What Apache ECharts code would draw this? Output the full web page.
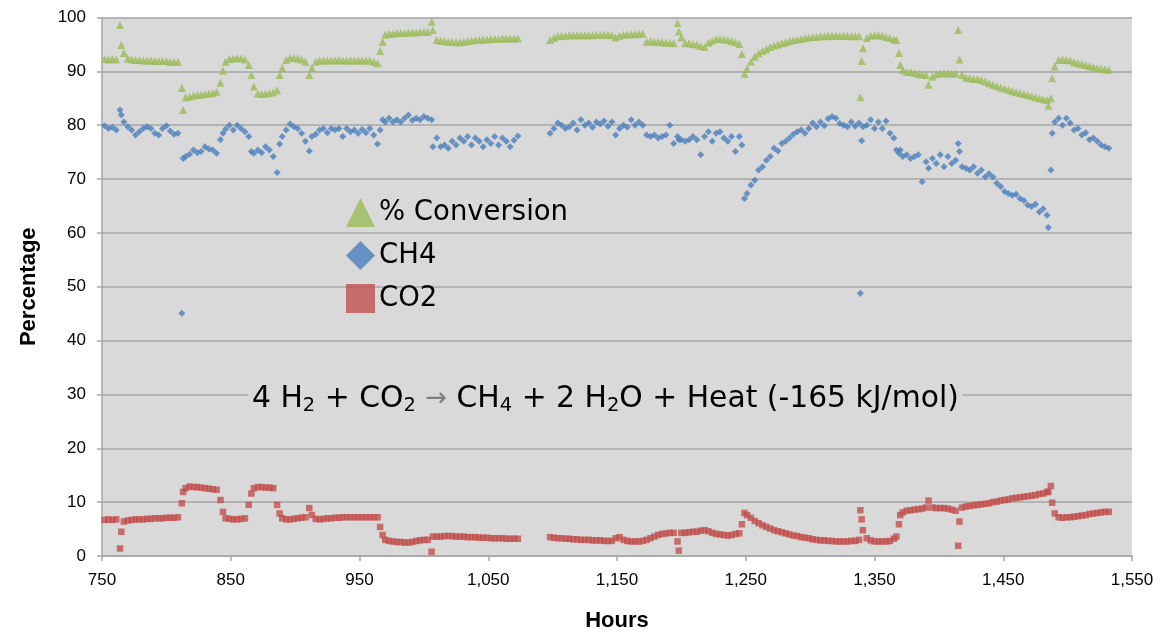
<!DOCTYPE html>
<html>
<head>
<meta charset="utf-8">
<script src="https://cdn.jsdelivr.net/npm/echarts@6/dist/echarts.min.js"></script>
<style>html,body{margin:0;padding:0;background:#fff}#c{width:1169px;height:633px}</style>
</head>
<body>
<div id="c"></div>
<script>
const hours = [
752,755,758,761,764,765,767,770,773,776,779,782,785,788,791,794,797,800,803,806,809,
812,813,815,818,821,824,827,830,833,836,839,842,844,846,849,852,855,858,861,864,866,
868,871,874,877,880,883,886,888,890,893,896,899,902,905,908,911,913,916,919,922,925,
928,931,934,937,940,943,946,949,952,955,958,961,964,966,968,970,973,976,979,982,985,
988,991,994,997,1000,1003,1006,1007,1010,1013,1016,1019,1022,1025,1028,1031,1034,1037,
1040,1043,1046,1049,1052,1055,1058,1061,1064,1067,1070,1073,
1098,1101,1104,1107,1110,1113,1116,1119,1122,1125,1128,1131,1134,1137,1140,1143,1146,
1149,1152,1155,1158,1161,1164,1167,1170,1173,1176,1179,1182,1185,1188,1191,1194,1197,
1198,1200,1203,1206,1209,1212,1215,1218,1221,1224,1227,1230,1233,1236,1239,1242,1245,
1247,1249,1251,1254,1257,1260,1263,1266,1269,1272,1275,1278,1281,1284,1287,1290,1293,
1296,1299,1302,1305,1308,1311,1314,1317,1320,1323,1326,1329,1332,1335,1338,1339,1340,
1341,1344,1347,1350,1353,1356,1359,1362,1365,1367,1369,1370,1372,1375,1378,1381,1384,
1387,1390,1392,1395,1398,1401,1404,1407,1410,1413,1415,1416,1418,1421,1424,1427,1430,
1433,1436,1439,1442,1445,1448,1451,1454,1457,1460,1463,1466,1469,1472,1475,1478,1481,
1484,1485,1487,1488,1490,1493,1496,1499,1502,1505,1508,1511,1514,1517,1520,1523,1526,
1529,1532
];
const conversion = [
92.3,92.2,92.3,92.2,98.6,94.9,93.4,92.4,92.2,92.1,92.1,92.0,92.0,92.0,91.9,91.9,91.9,91.9,91.8,91.8,91.8,
86.9,82.8,85.2,85.3,85.5,85.6,85.7,85.8,85.9,86.0,86.2,87.9,90.1,91.8,92.3,92.4,92.5,92.4,92.2,91.2,89.3,
87.2,85.9,85.8,85.9,86.0,86.1,86.5,89.3,90.6,92.1,92.5,92.5,92.4,92.2,91.8,89.3,90.6,91.8,92.0,92.0,92.0,
92.0,92.0,92.1,92.0,92.0,92.0,92.0,92.0,92.0,92.0,92.0,91.8,91.5,93.8,95.5,96.8,97.0,97.0,97.1,97.1,97.1,
97.2,97.2,97.2,97.3,97.3,97.3,99.2,97.7,95.8,95.7,95.6,95.5,95.5,95.4,95.4,95.5,95.6,95.7,
95.8,95.8,95.9,95.9,96.0,96.0,96.0,96.1,96.1,96.1,96.1,96.1,
95.8,96.2,96.5,96.6,96.6,96.7,96.7,96.7,96.7,96.7,96.7,96.7,96.8,96.8,96.8,96.8,96.7,
96.3,96.6,96.8,96.9,96.9,96.9,97.0,97.0,95.5,95.6,95.5,95.5,95.4,95.3,95.3,95.2,99.0,
97.4,96.3,95.2,95.2,95.1,95.0,94.7,94.5,95.3,95.7,96.0,96.0,95.9,95.8,95.6,95.4,95.1,
93.2,89.5,90.5,91.8,92.7,93.3,93.8,94.1,94.5,94.8,95.0,95.2,95.4,95.6,95.8,95.9,96.0,
96.2,96.3,96.4,96.4,96.5,96.5,96.6,96.6,96.6,96.6,96.6,96.6,96.5,96.5,96.5,85.2,91.9,
94.3,96.2,96.6,96.7,96.7,96.6,96.4,96.2,95.9,95.8,93.4,91.2,90.2,89.9,89.9,89.7,89.5,
89.4,89.3,87.5,89.0,89.5,89.6,89.7,89.6,89.6,89.6,97.7,92.2,89.3,88.8,88.7,88.6,88.6,
88.4,88.1,87.8,87.5,87.3,87.0,86.8,86.6,86.3,86.1,86.0,85.8,85.6,85.4,85.2,85.0,84.8,
84.7,83.6,85.0,88.7,90.9,92.1,92.2,92.1,92.0,91.7,91.5,91.3,91.2,91.0,90.8,90.6,90.5,
90.4,90.3
];
const ch4 = [
79.9,79.4,79.6,79.1,82.8,81.9,80.6,79.7,79.1,78.2,78.8,79.4,79.7,79.4,78.5,78.2,79.4,79.9,78.9,78.3,78.5,
45.1,73.8,74.2,74.6,75.4,74.9,75.1,76.0,75.6,75.4,74.8,77.3,78.5,79.3,80.0,79.1,80.0,79.4,78.8,77.9,75.1,
74.8,75.4,74.9,76.0,75.4,74.2,71.2,76.5,77.9,79.1,80.2,79.7,79.4,78.5,77.0,75.2,77.9,78.3,79.1,79.4,78.6,
79.4,79.1,79.4,77.9,79.4,78.8,79.1,78.5,79.2,78.6,79.4,78.2,76.5,79.1,81.0,80.6,81.3,80.6,81.0,80.6,81.3,
81.9,80.9,81.3,81.0,81.6,81.3,81.0,76.0,77.6,76.0,76.3,75.7,77.0,76.3,77.6,77.0,77.9,76.3,
77.6,77.0,76.0,77.3,76.6,77.9,76.3,77.6,77.0,76.0,77.2,78.0,
78.5,79.4,80.4,80.0,79.4,79.7,80.4,79.1,81.0,80.0,80.4,79.6,80.6,80.2,80.8,79.8,80.6,
78.2,79.4,80.0,79.6,81.0,80.0,80.6,80.0,78.2,77.9,78.2,77.6,77.9,78.2,80.0,76.6,77.9,
77.3,77.3,77.0,77.3,77.9,77.3,74.5,77.9,78.8,77.0,78.5,78.8,77.6,77.0,77.9,75.1,77.9,
76.3,66.4,67.3,68.9,69.8,71.7,72.3,73.5,74.2,75.7,75.2,76.6,77.0,77.6,78.3,78.8,79.1,
78.5,79.4,80.4,79.7,80.6,79.9,81.2,81.6,81.3,80.3,80.0,79.7,80.6,79.8,80.4,48.8,77.1,
79.7,80.0,81.0,79.4,80.6,79.4,80.8,78.5,77.6,75.4,74.8,75.4,74.2,74.5,73.8,74.2,74.5,
69.5,73.2,72.0,73.8,72.9,74.5,72.3,74.2,72.9,73.5,76.6,75.1,72.3,72.0,71.7,72.3,71.1,
71.7,70.4,71.0,70.4,69.2,68.6,67.7,67.3,67.0,67.2,66.4,66.0,65.2,64.9,65.3,63.9,64.5,
63.3,61.0,71.7,78.5,80.6,81.3,80.0,81.3,80.4,79.1,79.4,78.2,78.6,77.3,77.6,77.0,76.3,
76.0,75.7
];
const co2 = [
6.7,6.8,6.7,6.8,1.4,4.5,6.4,6.6,6.7,6.8,6.8,6.8,6.9,6.9,7.0,7.0,7.0,7.1,7.1,7.1,7.2,
9.8,11.9,12.6,12.9,12.8,12.8,12.7,12.6,12.5,12.4,12.3,10.4,8.2,7.0,6.9,6.8,6.8,6.9,7.0,9.5,11.6,
12.6,12.8,12.8,12.7,12.7,12.6,9.5,7.9,7.0,6.8,6.8,6.9,7.0,7.1,7.2,8.9,7.6,6.9,6.8,6.9,7.0,
7.0,7.1,7.1,7.2,7.2,7.2,7.2,7.2,7.2,7.2,7.2,7.2,7.2,5.4,3.9,3.0,2.8,2.7,2.6,2.6,2.5,
2.5,2.6,2.8,2.9,3.0,3.0,0.8,3.6,3.6,3.6,3.7,3.7,3.7,3.6,3.6,3.6,3.5,3.5,
3.5,3.4,3.4,3.4,3.3,3.3,3.3,3.3,3.2,3.2,3.2,3.2,
3.5,3.4,3.3,3.3,3.2,3.2,3.1,3.1,3.0,3.0,3.0,2.9,2.9,2.9,2.8,2.8,2.8,
3.3,3.5,3.0,2.8,2.7,2.7,2.7,2.8,3.0,3.3,3.6,3.9,4.1,4.2,4.3,4.3,2.7,
1.0,4.3,4.3,4.4,4.5,4.5,4.7,4.8,4.6,4.3,4.1,4.0,3.9,3.8,3.9,4.1,4.2,
5.9,8.0,7.6,7.1,6.5,6.1,5.7,5.4,5.1,4.8,4.6,4.4,4.2,4.0,3.8,3.7,3.5,
3.4,3.3,3.1,3.0,2.9,2.9,2.8,2.8,2.7,2.7,2.7,2.7,2.8,2.8,3.0,8.5,6.8,
4.8,3.3,2.9,2.7,2.7,2.7,2.7,2.8,3.2,3.6,5.9,7.6,8.1,8.4,8.5,8.6,8.7,
8.8,9.0,10.3,9.0,8.9,8.9,8.9,8.8,8.6,8.4,1.9,6.4,9.0,9.2,9.3,9.4,9.5,
9.6,9.7,9.8,10.0,10.1,10.3,10.4,10.5,10.7,10.8,10.9,11.0,11.1,11.2,11.3,11.5,11.6,
11.9,11.9,13.0,9.9,7.9,7.2,7.1,7.2,7.2,7.3,7.4,7.5,7.6,7.8,7.9,8.0,8.1,
8.2,8.2
];
const seriesNames = ['% Conversion', 'CH4', 'CO2'];
const xTicks = { min: 750, max: 1550, step: 100 };
const yTicks = { min: 0, max: 100, step: 10 };

function pairs(vals) {
  const out = [];
  for (let i = 0; i < hours.length; i++) {
    if (vals[i] != null) out.push([hours[i], vals[i]]);
  }
  return out;
}
function commas(v) {
  return String(v).replace(/\B(?=(\d{3})+(?!\d))/g, ',');
}
const FONT = 'Liberation Sans';
const WIDE = 'DejaVu Sans';
const chart = echarts.init(document.getElementById('c'), null, { renderer: 'canvas' });
chart.setOption({
  animation: false,
  backgroundColor: '#ffffff',
  grid: { left: 102, right: 37, top: 17.5, bottom: 77, show: true, backgroundColor: '#d9d9d9', borderWidth: 0,
          containLabel: false, outerBoundsMode: 'none' },
  xAxis: {
    type: 'value', min: xTicks.min, max: xTicks.max, interval: xTicks.step,
    name: 'Hours', nameLocation: 'middle', nameGap: 54,
    nameTextStyle: { fontFamily: FONT, fontSize: 22, fontWeight: 'bold', color: '#000' },
    axisLine: { show: true, lineStyle: { color: '#a6a6a6', width: 1.5 } },
    axisTick: { show: true, length: 5, lineStyle: { color: '#a6a6a6', width: 1.5 } },
    axisLabel: { formatter: commas, fontFamily: FONT, fontSize: 17, color: '#000', margin: 16 },
    splitLine: { show: false }
  },
  yAxis: {
    type: 'value', min: yTicks.min, max: yTicks.max, interval: yTicks.step,
    name: 'Percentage', nameLocation: 'middle', nameGap: 62,
    nameTextStyle: { fontFamily: FONT, fontSize: 22, fontWeight: 'bold', color: '#000' },
    axisLine: { show: true, lineStyle: { color: '#a6a6a6', width: 1.5 } },
    axisTick: { show: true, length: 5, lineStyle: { color: '#a6a6a6', width: 1.5 } },
    axisLabel: { fontFamily: FONT, fontSize: 17, color: '#000', margin: 16 },
    splitLine: { show: true, lineStyle: { color: '#a6a6a6', width: 1.5 } }
  },
  legend: {
    orient: 'vertical', left: 341, top: 193, itemWidth: 29, itemHeight: 29, itemGap: 14,
    textStyle: { fontFamily: WIDE, fontSize: 27.5, color: '#000', padding: [0, 0, 0, -1] },
    data: [
      { name: seriesNames[0], icon: 'triangle' },
      { name: seriesNames[1], icon: 'diamond' },
      { name: seriesNames[2], icon: 'rect' }
    ]
  },
  graphic: [{
    type: 'text', x: 248, y: 399, z: 10,
    style: {
      text: '4 H{s|2} + CO{s|2} {a|→} CH{s|4} + 2 H{s|2}O + Heat (-165 kJ/mol)',
      fontFamily: WIDE, fontSize: 29.8, fill: '#000', verticalAlign: 'middle',
      backgroundColor: '#d9d9d9', padding: [4, 4, 4, 4],
      rich: {
        s: { fontFamily: WIDE, fontSize: 19.5, verticalAlign: 'bottom', padding: [14, 0, 0, 0], fill: '#000' },
        a: { fontFamily: WIDE, fontSize: 26, fill: '#7f7f7f' }
      }
    }
  }],
  series: [
    { name: seriesNames[0], type: 'scatter', symbol: 'triangle', symbolSize: 8, itemStyle: { color: '#9bbb59' }, data: pairs(conversion), z: 3 },
    { name: seriesNames[1], type: 'scatter', symbol: 'diamond', symbolSize: 7, itemStyle: { color: '#4a7ebb' }, data: pairs(ch4), z: 4 },
    { name: seriesNames[2], type: 'scatter', symbol: 'rect', symbolSize: 6.5, itemStyle: { color: '#c0504d' }, data: pairs(co2), z: 5 }
  ]
});
</script>
</body>
</html>
